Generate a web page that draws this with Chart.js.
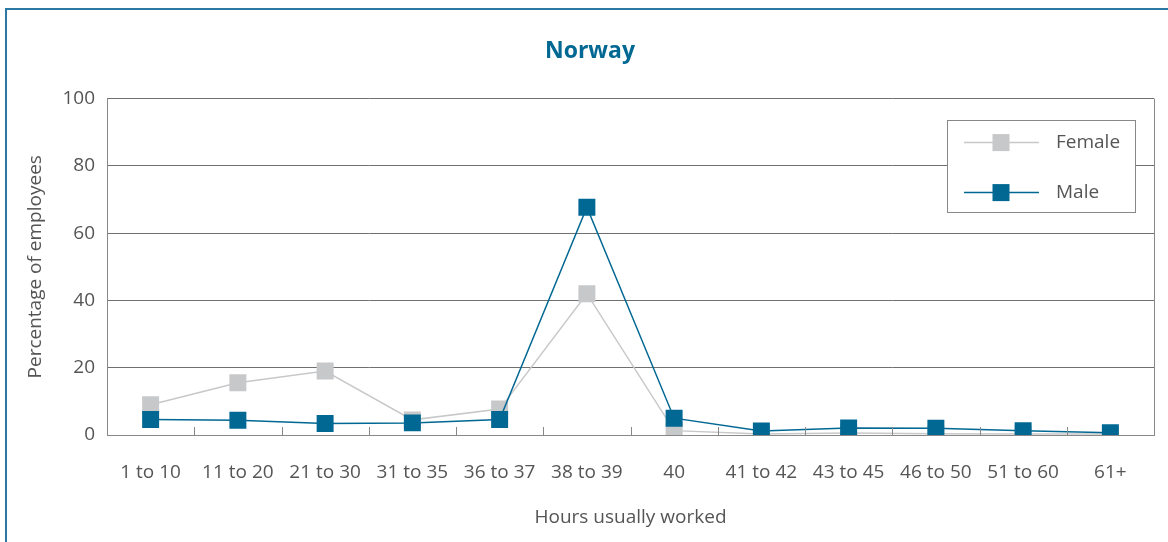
<!DOCTYPE html>
<html>
<head>
<meta charset="utf-8">
<script src="https://cdn.jsdelivr.net/npm/chart.js@4/dist/chart.umd.min.js"></script>
<style>
  html, body { margin: 0; padding: 0; background: #fff; }
  #wrap { position: relative; width: 1168px; height: 542px; overflow: hidden; }
  #frame { position: absolute; left: 5px; top: 8px; width: 1300px; height: 700px;
           border-left: 2px solid #2b78a3; border-top: 2px solid #2b78a3; }
  canvas { position: absolute; left: 0; top: 0; }
</style>
</head>
<body>
<div id="wrap">
  <div id="frame"></div>
  <canvas id="chart" width="1168" height="542"></canvas>
</div>
<script>
const canvas = document.getElementById('chart');
const ctx = canvas.getContext('2d');

// data
const hours = ['1 to 10', '11 to 20', '21 to 30', '31 to 35', '36 to 37', '38 to 39',
  '40', '41 to 42', '43 to 45', '46 to 50', '51 to 60', '61+'];
const female = [9, 15.5, 19, 4.5, 7.7, 42, 1.3, 0.3, 0.6, 0.4, 0.3, 0.3];
const male = [4.6, 4.4, 3.4, 3.6, 4.6, 67.7, 5, 1.2, 2.1, 2.0, 1.3, 0.7];
const yTicks = [0, 20, 40, 60, 80, 100];

const maleColor = '#006892';
const femaleColor = '#c7c8ca';
const textColor = '#555555';
const fontFamily = '"Open Sans", "DejaVu Sans", sans-serif';

// tick marks inside the plot at category boundaries + right border
const plotExtras = {
  id: 'plotExtras',
  afterDraw(chart) {
    const x = chart.scales.x;
    const area = chart.chartArea;
    const c = chart.ctx;
    c.save();
    c.strokeStyle = '#888888';
    c.lineWidth = 1;
    c.beginPath();
    for (let i = 1; i < hours.length; i++) {
      const px = Math.round((x.getPixelForValue(i - 1) + x.getPixelForValue(i)) / 2) + 0.5;
      c.moveTo(px, area.bottom);
      c.lineTo(px, area.bottom - 8);
    }
    c.moveTo(Math.round(area.right) + 0.5, area.top);
    c.lineTo(Math.round(area.right) + 0.5, area.bottom);
    c.stroke();
    c.restore();
  }
};

// boxed legend inside the plot, top right
const boxLegend = {
  id: 'boxLegend',
  afterDraw(chart) {
    const c = chart.ctx;
    const area = chart.chartArea;
    const w = 188, h = 92;
    const left = area.right - 19 - w;
    const top = area.top + 21;
    c.save();
    c.fillStyle = '#ffffff';
    c.fillRect(left, top, w, h);
    c.strokeStyle = '#888888';
    c.lineWidth = 1;
    c.strokeRect(Math.round(left) + 0.5, Math.round(top) + 0.5, w, h);
    const items = [chart.data.datasets[1], chart.data.datasets[0]];
    items.forEach(function(ds, i) {
      const cy = top + 23 + i * 50;
      c.strokeStyle = ds.borderColor;
      c.lineWidth = 1.5;
      c.beginPath();
      c.moveTo(left + 17, cy);
      c.lineTo(left + 92, cy);
      c.stroke();
      c.fillStyle = ds.pointBackgroundColor;
      c.fillRect(left + 54 - 8.5, cy - 8.5, 17, 17);
      c.fillStyle = textColor;
      c.font = '19px ' + fontFamily;
      c.textBaseline = 'middle';
      c.textAlign = 'left';
      c.fillText(ds.label, left + 109, cy);
    });
    c.restore();
  }
};

new Chart(ctx, {
  type: 'line',
  data: {
    labels: hours,
    datasets: [{
      label: 'Male',
      data: male,
      order: 0,
      borderColor: maleColor,
      backgroundColor: maleColor,
      pointBackgroundColor: maleColor,
      borderWidth: 1.5,
      pointStyle: 'rect',
      pointRadius: 12,
      pointBorderWidth: 0,
      tension: 0
    }, {
      label: 'Female',
      data: female,
      order: 1,
      borderColor: femaleColor,
      backgroundColor: femaleColor,
      pointBackgroundColor: femaleColor,
      borderWidth: 1.5,
      pointStyle: 'rect',
      pointRadius: 12,
      pointBorderWidth: 0,
      tension: 0
    }]
  },
  options: {
    responsive: false,
    animation: false,
    layout: { padding: { left: 26, right: 14, top: 0, bottom: 0 } },
    plugins: {
      legend: { display: false },
      tooltip: { enabled: false },
      title: {
        display: true,
        text: 'Norway',
        color: maleColor,
        font: { family: fontFamily, size: 23, weight: 'bold', lineHeight: 1.2 },
        padding: { top: 38, bottom: 33 }
      }
    },
    scales: {
      x: {
        offset: true,
        grid: { display: false, drawTicks: false },
        border: { display: true, color: '#888888', width: 1 },
        ticks: { color: textColor, font: { family: fontFamily, size: 19 }, padding: 26, maxRotation: 0, autoSkip: false },
        title: {
          display: true,
          text: 'Hours usually worked',
          color: textColor,
          font: { family: fontFamily, size: 19, lineHeight: 1.2 },
          padding: { top: 0, bottom: 13 }
        },
        afterFit(scale) { scale.height = 107; }
      },
      y: {
        min: 0,
        max: 100,
        afterBuildTicks(scale) { scale.ticks = yTicks.map(v => ({ value: v })); },
        grid: { color: '#707070', lineWidth: 1, drawTicks: false },
        border: { display: true, color: '#888888', width: 1 },
        ticks: { color: textColor, font: { family: fontFamily, size: 19 }, padding: 12 },
        title: {
          display: true,
          text: 'Percentage of employees',
          color: textColor,
          font: { family: fontFamily, size: 19, lineHeight: 1 },
          padding: { top: 0, bottom: 0 }
        },
        afterFit(scale) { scale.width = 81; }
      }
    }
  },
  plugins: [plotExtras, boxLegend]
});
</script>
</body>
</html>
